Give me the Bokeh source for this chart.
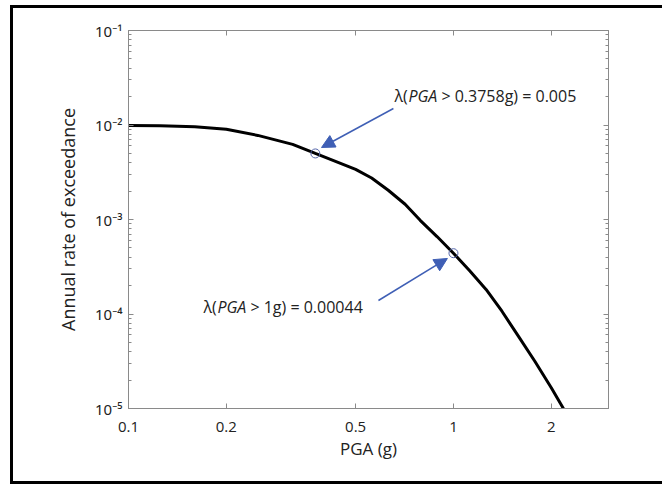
from bokeh.plotting import figure
from bokeh.models import (LogAxis, FixedTicker, Label, Arrow, NormalHead, ColumnDataSource)
from bokeh.embed import file_html
from bokeh.resources import INLINE

# ---- data ----
pga = [0.1, 0.125, 0.16, 0.2, 0.25, 0.32, 0.3758, 0.5, 0.56, 0.63, 0.71, 0.79, 0.89,
       1.0, 1.12, 1.26, 1.41, 1.58, 1.78, 2.0, 2.24]
rate = [0.0099, 0.00982, 0.0096, 0.00902, 0.00776, 0.00624, 0.005, 0.00339, 0.00275,
        0.00204, 0.00145, 0.00098, 0.00066, 0.00044, 0.000288, 0.000182, 0.000107,
        5.9e-5, 3.16e-5, 1.66e-5, 8.5e-6]

mark_pga = [0.3758, 1.0]
mark_rate = [0.005, 0.00044]
mark_prefix = ["λ(", "λ("]
mark_suffix = [" > 0.3758g) = 0.005", " > 1g) = 0.00044"]

x_ticks = [0.1, 0.2, 0.5, 1, 2]
x_tick_labels = ["0.1", "0.2", "0.5", "1", "2"]
y_ticks = [1e-5, 1e-4, 1e-3, 1e-2, 1e-1]
y_tick_labels = ["10⁻⁵", "10⁻⁴", "10⁻³", "10⁻²", "10⁻¹"]
y_minor = [m * d for d in [1e-5, 1e-4, 1e-3, 1e-2] for m in range(2, 10)]

# annotation placement (data coords): arrow tails / tips, text anchors
arrow_tail = [(0.6535, 0.01496), (0.5877, 0.000139)]
arrow_tip = [(0.3926, 0.00578), (0.958, 0.000387)]
text_anchor = [(0.658, 0.0205), (0.170, 0.00012)]

FONT = "Open Sans"
AX = "#8a8a8a"
TXT = "#222222"

p = figure(width=652, height=479, x_axis_type="log", y_axis_type="log",
           x_range=(0.1, 3), y_range=(1e-5, 1e-1),
           output_backend="svg", toolbar_location=None,
           min_border_left=115, min_border_right=57, min_border_top=22, min_border_bottom=79)
p.margin = (5, 0, 0, 10)
p.styles = {"border-left": "3px solid black", "border-top": "3px solid black",
            "border-bottom": "3px solid black"}
p.grid.visible = False
p.outline_line_color = AX
p.background_fill_color = "white"
p.border_fill_color = "white"

# bottom axis
xa = p.xaxis[0]
xa.ticker = FixedTicker(ticks=x_ticks)
xa.major_label_overrides = {t: l for t, l in zip(x_ticks, x_tick_labels)}
xa.major_tick_in = 5
xa.major_tick_out = 0
xa.minor_tick_in = 0
xa.minor_tick_out = 0
xa.axis_line_color = AX
xa.major_tick_line_color = AX
xa.major_label_text_font = FONT
xa.major_label_text_font_size = "15px"
xa.major_label_text_color = TXT
xa.major_label_standoff = 13
xa.axis_label = "PGA (g)"
xa.axis_label_text_font = FONT
xa.axis_label_text_font_size = "17px"
xa.axis_label_text_font_style = "normal"
xa.axis_label_text_color = TXT
xa.axis_label_standoff = 2

# left axis
ya = p.yaxis[0]
ya.ticker = FixedTicker(ticks=y_ticks, minor_ticks=y_minor)
ya.major_label_overrides = {t: l for t, l in zip(y_ticks, y_tick_labels)}
ya.major_tick_in = 5
ya.major_tick_out = 0
ya.minor_tick_in = 3
ya.minor_tick_out = 0
ya.axis_line_color = AX
ya.major_tick_line_color = AX
ya.minor_tick_line_color = AX
ya.major_label_text_font = "Noto Sans"
ya.major_label_text_font_size = "15px"
ya.major_label_text_color = TXT
ya.major_label_standoff = 6
ya.axis_label = "Annual rate of exceedance"
ya.axis_label_text_font = FONT
ya.axis_label_text_font_size = "18px"
ya.axis_label_text_font_style = "normal"
ya.axis_label_text_color = TXT
ya.axis_label_standoff = 12

# top and right axes
ta = LogAxis(ticker=FixedTicker(ticks=x_ticks), major_tick_in=5, major_tick_out=0,
             minor_tick_in=0, minor_tick_out=0, axis_line_color=AX, major_tick_line_color=AX,
             major_label_text_alpha=0, major_label_text_font_size="8px")
p.add_layout(ta, "above")
ra = LogAxis(ticker=FixedTicker(ticks=y_ticks, minor_ticks=y_minor),
             major_tick_in=5, major_tick_out=0,
             minor_tick_in=3, minor_tick_out=0, axis_line_color=AX, major_tick_line_color=AX,
             minor_tick_line_color=AX, major_label_text_alpha=0, major_label_text_font_size="8px")
p.add_layout(ra, "right")

# hazard curve
src = ColumnDataSource(dict(x=pga, y=rate))
p.line("x", "y", source=src, line_color="black", line_width=3)

# marked points
p.scatter(mark_pga, mark_rate, marker="circle", size=9, fill_color=None,
          line_color="#5566aa", line_width=1)

# arrows
for (tx, ty), (hx, hy) in zip(arrow_tail, arrow_tip):
    p.add_layout(Arrow(x_start=tx, y_start=ty, x_end=hx, y_end=hy,
                       line_color="#3f5fb5", line_width=1.5,
                       end=NormalHead(size=13, fill_color="#3f5fb5", line_color="#3f5fb5")))

# annotation texts
for (ax_, ay_), pre, suf in zip(text_anchor, mark_prefix, mark_suffix):
    p.add_layout(Label(x=ax_, y=ay_, text=pre, text_baseline="middle", text_align="left",
                       text_font=FONT, text_font_size="16px", text_color=TXT))
    p.add_layout(Label(x=ax_, y=ay_, text="PGA", x_offset=14, text_baseline="middle",
                       text_align="left", text_font=FONT, text_font_style="italic",
                       text_font_size="16px", text_color=TXT))
    p.add_layout(Label(x=ax_, y=ay_, text=suf, x_offset=47, text_baseline="middle",
                       text_align="left", text_font=FONT, text_font_size="16px",
                       text_color=TXT))

open("out.html", "w").write(file_html(p, INLINE))
